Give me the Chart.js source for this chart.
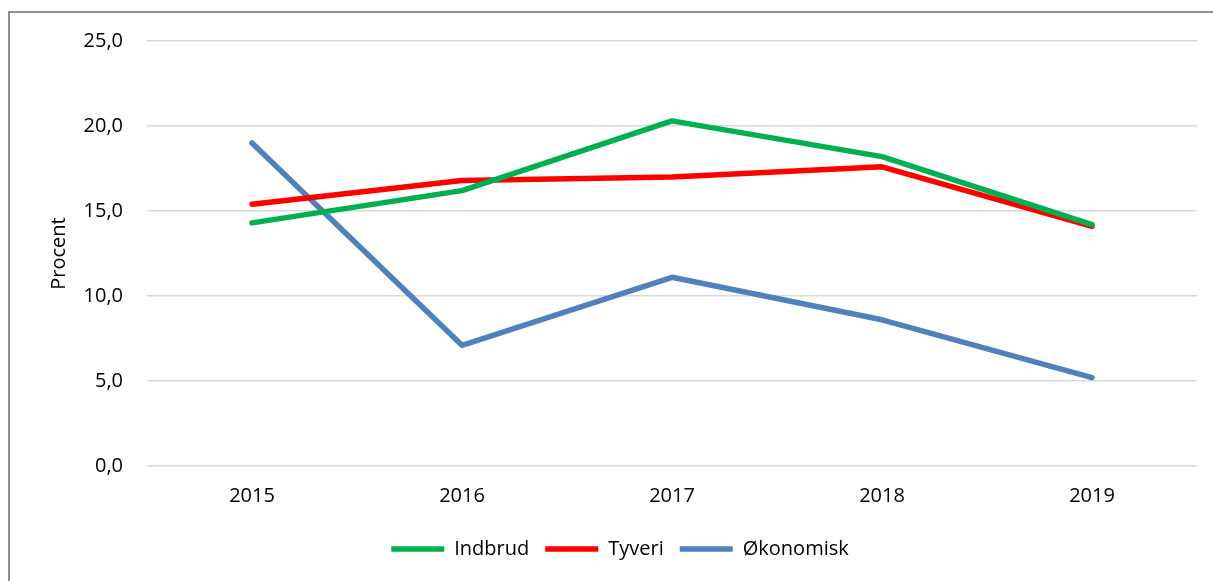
<!DOCTYPE html>
<html>
<head>
<meta charset="utf-8">
<script src="https://cdn.jsdelivr.net/npm/chart.js@4/dist/chart.umd.min.js"></script>
<style>
    html, body { margin: 0; padding: 0; background: #fff; overflow: hidden; }
    #frame {
        position: absolute; left: 8px; top: 11px;
        width: 1400px; height: 800px;
        border: 2px solid #8f8f8f;
    }
    #wrap { position: absolute; left: 0; top: 0; width: 1213px; height: 581px; }
</style>
</head>
<body>
<div id="frame"></div>
<div id="wrap"><canvas id="chartLine"></canvas></div>
<script>
var years = ["2015", "2016", "2017", "2018", "2019"];
var indbrud = [14.3, 16.2, 20.3, 18.2, 14.2];
var tyveri = [15.4, 16.8, 17.0, 17.6, 14.1];
var oekonomisk = [19.0, 7.1, 11.1, 8.6, 5.2];

Chart.defaults.font.family = "'Open Sans', sans-serif";
Chart.defaults.font.size = 20;
Chart.defaults.color = "#000";

function lineSet(label, data, color) {
    return {
        label: label,
        data: data,
        borderColor: color,
        backgroundColor: color,
        borderWidth: 5.5,
        borderCapStyle: "round",
        borderJoinStyle: "round",
        pointRadius: 0,
        pointHoverRadius: 0,
        pointStyle: "line",
        tension: 0,
    };
}

const dataLine = {
    labels: years,
    datasets: [
        lineSet("Indbrud", indbrud, "#00B050"),
        lineSet("Tyveri", tyveri, "#FF0000"),
        lineSet("Økonomisk", oekonomisk, "#4F81BD"),
    ],
};

const configLine = {
    type: "line",
    data: dataLine,
    options: {
        responsive: true,
        maintainAspectRatio: false,
        animation: false,
        layout: { padding: { left: 43, right: 16, top: 41, bottom: 12 } },
        plugins: {
            tooltip: { enabled: false },
            legend: {
                position: "bottom",
                labels: {
                    usePointStyle: true,
                    pointStyleWidth: 53,
                    boxHeight: 20,
                    padding: 16,
                },
            },
        },
        scales: {
            x: {
                offset: true,
                grid: { display: false, drawTicks: false },
                border: { display: false },
                ticks: { padding: 18, maxRotation: 0 },
                afterFit: function (scale) { scale.height = 57; },
            },
            y: {
                min: 0,
                max: 25,
                ticks: {
                    stepSize: 5,
                    padding: 24,
                    callback: function (v) { return v.toFixed(1).replace(".", ","); },
                },
                grid: { color: "#d9d9d9", lineWidth: 1.5, drawTicks: false },
                border: { display: false },
                title: { display: true, text: "Procent", padding: 4 },
                afterFit: function (scale) { scale.width = 104; },
            },
        },
    },
};

var chartLine = new Chart(document.getElementById("chartLine"), configLine);
</script>
</body>
</html>
